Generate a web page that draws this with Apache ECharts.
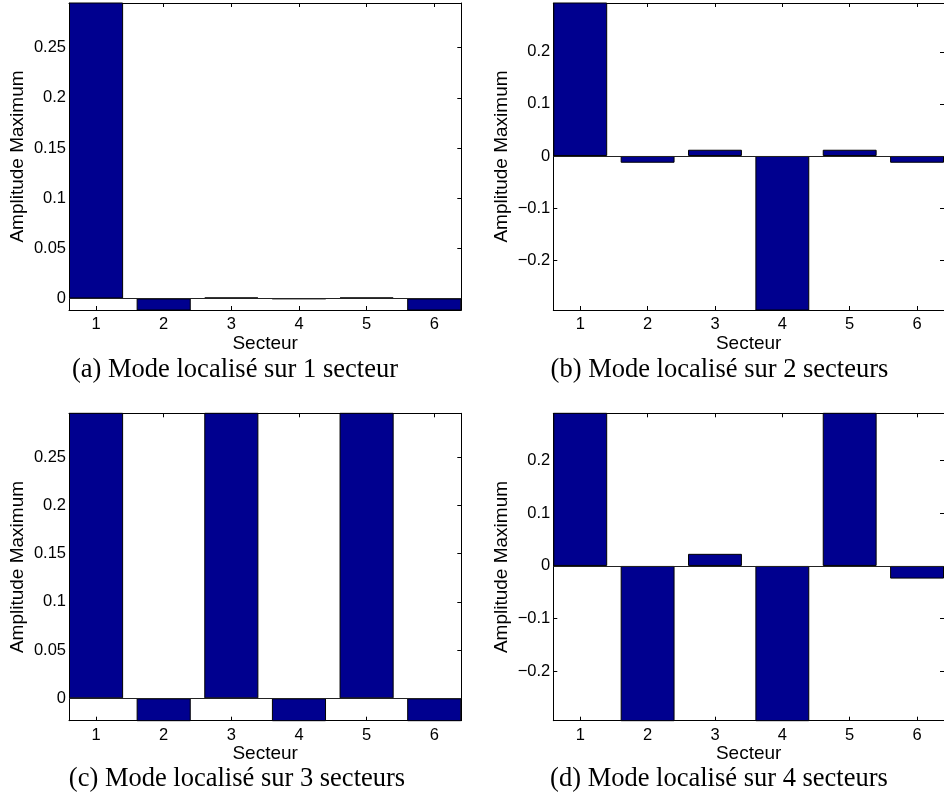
<!DOCTYPE html>
<html>
<head>
<meta charset="utf-8">
<script src="https://cdn.jsdelivr.net/npm/echarts@6/dist/echarts.min.js"></script>
<style>
html,body{margin:0;padding:0;background:#fff;}
#c{width:944px;height:799px;}
</style>
</head>
<body>
<div id="c"></div>
<script>
// ---- data ----
const sectors = [1, 2, 3, 4, 5, 6];
const modeA = [0.9, -0.03, 0.001, -0.0005, 0.001, -0.03];
const modeB = [0.7, -0.013, 0.012, -0.7, 0.012, -0.013];
const modeC = [0.57, -0.03, 0.57, -0.03, 0.57, -0.03];
const modeD = [0.5, -0.5, 0.023, -0.5, 0.5, -0.024];
const yTicksA = [0, 0.05, 0.1, 0.15, 0.2, 0.25];
const yTicksB = [-0.2, -0.1, 0, 0.1, 0.2];
const yTicksC = [0, 0.05, 0.1, 0.15, 0.2, 0.25];
const yTicksD = [-0.2, -0.1, 0, 0.1, 0.2];
const yRangeA = [-0.0115, 0.2945];
const yRangeB = [-0.296, 0.294];
const yRangeC = [-0.0232, 0.2956];
const yRangeD = [-0.294, 0.290];
const captions = ['(a) Mode localisé sur 1 secteur', '(b) Mode localisé sur 2 secteurs',
                  '(c) Mode localisé sur 3 secteurs', '(d) Mode localisé sur 4 secteurs'];
const xLabel = 'Secteur';
const yLabel = 'Amplitude Maximum';

// ---- layout ----
const grids = [
  {left: 69, top: 3, width: 392.3, height: 307},
  {left: 553.3, top: 3, width: 392.3, height: 307},
  {left: 69, top: 413.3, width: 392.3, height: 307.4},
  {left: 553.3, top: 413.3, width: 392.3, height: 307.4}
];
const capPos = [[235, 370], [719.5, 370], [237, 779], [719, 779]];
const panels = [
  {data: modeA, ticks: yTicksA, range: yRangeA},
  {data: modeB, ticks: yTicksB, range: yRangeB},
  {data: modeC, ticks: yTicksC, range: yRangeC},
  {data: modeD, ticks: yTicksD, range: yRangeD}
];

const FONT = '"Liberation Sans", Arial, Helvetica, sans-serif';
function fmt(v) {
  if (Math.abs(v) < 1e-9) return '0';
  const s = String(+Math.abs(v).toFixed(4));
  return v < 0 ? '\u2212' + s : s;
}

const xAxes = [], yAxes = [], series = [], graphics = [];
panels.forEach((p, i) => {
  const axLine = {show: true, onZero: false, lineStyle: {color: '#000', width: 1}};
  const xBase = {
    type: 'value', gridIndex: i, min: 0.6, max: 6.4,
    splitLine: {show: false}, axisLine: axLine
  };
  xAxes.push(Object.assign({}, xBase, {
    position: 'bottom',
    name: xLabel, nameLocation: 'middle', nameGap: 23,
    nameTextStyle: {fontFamily: FONT, fontSize: 19, color: '#000'},
    axisTick: {show: true, inside: true, length: 4, customValues: sectors, lineStyle: {color: '#000'}},
    axisLabel: {show: true, margin: 6, customValues: sectors, fontFamily: FONT, fontSize: 16.5, color: '#000'}
  }));
  xAxes.push(Object.assign({}, xBase, {
    position: 'top',
    axisTick: {show: true, inside: true, length: 4, customValues: sectors, lineStyle: {color: '#000'}},
    axisLabel: {show: false}
  }));
  const yBase = {
    type: 'value', gridIndex: i, min: p.range[0], max: p.range[1],
    splitLine: {show: false}, axisLine: axLine
  };
  yAxes.push(Object.assign({}, yBase, {
    position: 'left',
    name: yLabel, nameLocation: 'middle', nameGap: 42,
    nameTextStyle: {fontFamily: FONT, fontSize: 19, color: '#000'},
    axisTick: {show: true, inside: true, length: 4, customValues: p.ticks, lineStyle: {color: '#000'}},
    axisLabel: {show: true, margin: 3, customValues: p.ticks, formatter: fmt,
                fontFamily: FONT, fontSize: 16.5, color: '#000'}
  }));
  yAxes.push(Object.assign({}, yBase, {
    position: 'right',
    axisTick: {show: true, inside: true, length: 4, customValues: p.ticks, lineStyle: {color: '#000'}},
    axisLabel: {show: false}
  }));
  series.push({
    type: 'bar', xAxisIndex: 2 * i, yAxisIndex: 2 * i,
    data: p.data.map((v, k) => [sectors[k], v]),
    barWidth: '80%', clip: true,
    itemStyle: {color: '#00008F', borderColor: '#000', borderWidth: 1},
    markLine: {
      silent: true, symbol: ['none', 'none'], label: {show: false},
      lineStyle: {color: '#222', width: 1, type: 'solid'},
      data: [{yAxis: 0}]
    }
  });
  graphics.push({
    type: 'text', x: capPos[i][0], y: capPos[i][1],
    style: {text: captions[i], align: 'center', verticalAlign: 'middle',
            fontFamily: '"Liberation Serif", "Times New Roman", serif', fontSize: 26.5, fill: '#000'}
  });
});

const chart = echarts.init(document.getElementById('c'), null, {renderer: 'canvas'});
chart.setOption({
  animation: false,
  backgroundColor: '#fff',
  grid: grids.map(g => Object.assign({containLabel: false}, g)),
  xAxis: xAxes,
  yAxis: yAxes,
  series: series,
  graphic: graphics
});
</script>
</body>
</html>
